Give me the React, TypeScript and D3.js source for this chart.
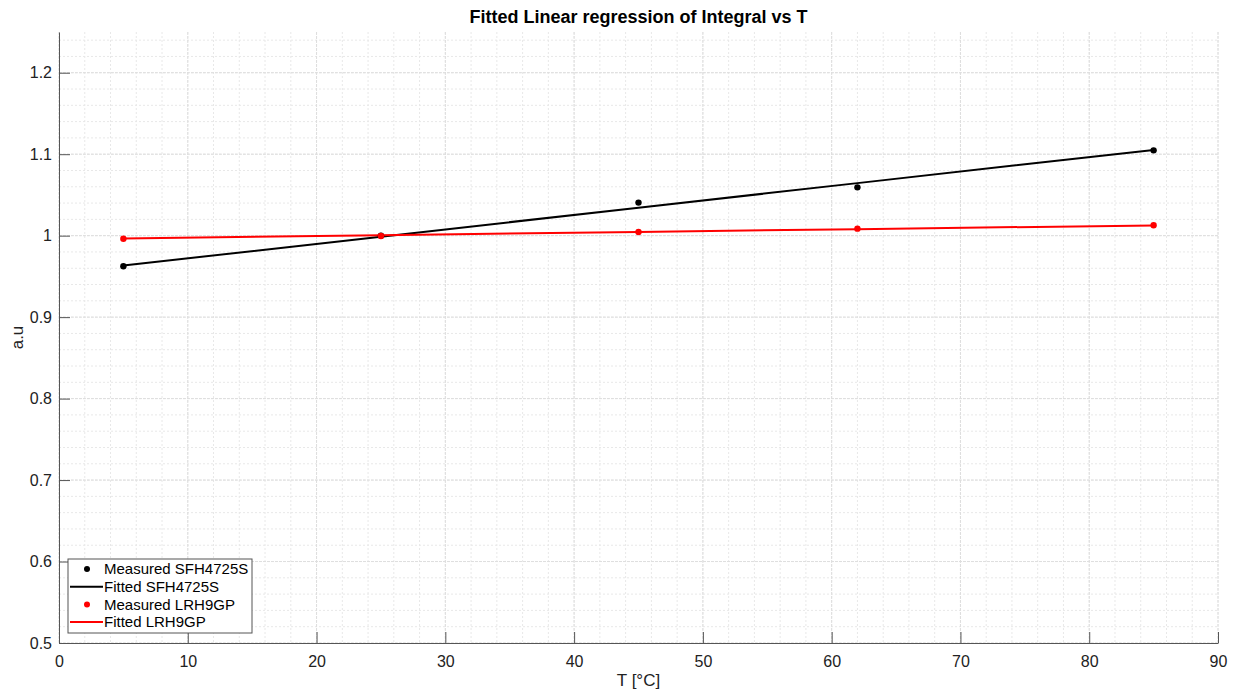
import { useEffect, useRef } from "react";
import * as d3 from "d3";

const temps = [5, 25, 45, 62, 85];
const measuredSFH = [0.9624, 1.0, 1.0406, 1.0593, 1.1047];
const fittedSFH = [0.9633, 0.9988, 1.0343, 1.0645, 1.1053];
const measuredLRH = [0.9962, 0.9995, 1.0045, 1.0086, 1.0128];
const fittedLRH = [0.9966, 1.0006, 1.0046, 1.008, 1.0126];

const xTicks = [0, 10, 20, 30, 40, 50, 60, 70, 80, 90];
const yTicks = [0.5, 0.6, 0.7, 0.8, 0.9, 1, 1.1, 1.2];

const legendItems = [
  { label: "Measured SFH4725S", color: "#000000", kind: "dot" },
  { label: "Fitted SFH4725S", color: "#000000", kind: "line" },
  { label: "Measured LRH9GP", color: "#ff0000", kind: "dot" },
  { label: "Fitted LRH9GP", color: "#ff0000", kind: "line" },
];

export default function App() {
  const svgRef = useRef<SVGSVGElement>(null);

  useEffect(() => {
    if (!svgRef.current) return;
    const width = 1234;
    const height = 693;
    const margin = { top: 32, right: 16, bottom: 50, left: 59 };
    const innerWidth = width - margin.left - margin.right;
    const innerHeight = height - margin.top - margin.bottom;
    const font = "'Liberation Sans', Arial, sans-serif";

    d3.select(svgRef.current).selectAll("*").remove();
    const svg = d3
      .select(svgRef.current)
      .attr("width", width)
      .attr("height", height)
      .style("font-family", font);

    svg.append("rect").attr("width", width).attr("height", height).attr("fill", "#fff");

    const g = svg.append("g").attr("transform", `translate(${margin.left},${margin.top})`);

    const x = d3.scaleLinear().domain([0, 90]).range([0, innerWidth]);
    const y = d3.scaleLinear().domain([0.5, 1.25]).range([innerHeight, 0]);

    // Minor grid
    const minorX = d3.range(0, 91, 2);
    const minorY = d3.range(0.5, 1.2501, 0.02);
    g.append("g")
      .selectAll("line")
      .data(minorX)
      .join("line")
      .attr("x1", (d) => x(d))
      .attr("x2", (d) => x(d))
      .attr("y1", 0)
      .attr("y2", innerHeight)
      .attr("stroke", "#e8e8e8")
      .attr("stroke-dasharray", "2,2");
    g.append("g")
      .selectAll("line")
      .data(minorY)
      .join("line")
      .attr("x1", 0)
      .attr("x2", innerWidth)
      .attr("y1", (d) => y(d))
      .attr("y2", (d) => y(d))
      .attr("stroke", "#e8e8e8")
      .attr("stroke-dasharray", "2,2");

    // Major grid
    g.append("g")
      .selectAll("line")
      .data(xTicks)
      .join("line")
      .attr("x1", (d) => x(d))
      .attr("x2", (d) => x(d))
      .attr("y1", 0)
      .attr("y2", innerHeight)
      .attr("stroke", "#dedede")
      .attr("stroke-dasharray", "3,1");
    g.append("g")
      .selectAll("line")
      .data(yTicks)
      .join("line")
      .attr("x1", 0)
      .attr("x2", innerWidth)
      .attr("y1", (d) => y(d))
      .attr("y2", (d) => y(d))
      .attr("stroke", "#dedede")
      .attr("stroke-dasharray", "3,1");

    // Axes
    const xAxis = d3
      .axisBottom(x)
      .tickValues(xTicks)
      .tickSizeInner(-11)
      .tickSizeOuter(0)
      .tickPadding(12)
      .tickFormat((d) => `${d}`);
    const yAxis = d3
      .axisLeft(y)
      .tickValues(yTicks)
      .tickSizeInner(-11)
      .tickSizeOuter(0)
      .tickPadding(7)
      .tickFormat((d) => `${d}`);

    const gx = g.append("g").attr("transform", `translate(0,${innerHeight})`).call(xAxis);
    const gy = g.append("g").call(yAxis);
    [gx, gy].forEach((ax) => {
      ax.select(".domain").attr("stroke", "#555").attr("stroke-width", 1);
      ax.selectAll(".tick line").attr("stroke", "#555");
      ax.selectAll(".tick text")
        .attr("fill", "#222")
        .style("font-size", "16px")
        .style("font-family", font);
    });
    gx.selectAll(".tick text").attr("y", 24).attr("dy", 0);
    gy.selectAll(".tick text").attr("x", -7);

    // Lines
    const line = d3
      .line<number>()
      .x((_, i) => x(temps[i]))
      .y((d) => y(d));

    g.append("path")
      .datum(fittedSFH)
      .attr("d", line)
      .attr("fill", "none")
      .attr("stroke", "#000")
      .attr("stroke-width", 2);
    g.append("path")
      .datum(fittedLRH)
      .attr("d", line)
      .attr("fill", "none")
      .attr("stroke", "#ff0000")
      .attr("stroke-width", 2);

    g.append("g")
      .selectAll("circle")
      .data(measuredSFH)
      .join("circle")
      .attr("cx", (_, i) => x(temps[i]))
      .attr("cy", (d) => y(d))
      .attr("r", 3.2)
      .attr("fill", "#000");
    g.append("g")
      .selectAll("circle")
      .data(measuredLRH)
      .join("circle")
      .attr("cx", (_, i) => x(temps[i]))
      .attr("cy", (d) => y(d))
      .attr("r", 3.2)
      .attr("fill", "#ff0000");

    // Title and labels
    svg
      .append("text")
      .attr("x", margin.left + innerWidth / 2)
      .attr("y", 23)
      .attr("text-anchor", "middle")
      .attr("font-weight", "bold")
      .attr("font-size", 18)
      .attr("fill", "#000")
      .text("Fitted Linear regression of Integral vs T");

    svg
      .append("text")
      .attr("x", margin.left + innerWidth / 2)
      .attr("y", 686)
      .attr("text-anchor", "middle")
      .attr("font-size", 17)
      .attr("fill", "#222")
      .text("T [°C]");

    svg
      .append("text")
      .attr("transform", `translate(23,${margin.top + innerHeight / 2}) rotate(-90)`)
      .attr("text-anchor", "middle")
      .attr("font-size", 17)
      .attr("fill", "#222")
      .text("a.u");

    // Legend
    const lg = svg.append("g").attr("transform", "translate(68,559)");
    lg.append("rect")
      .attr("width", 184)
      .attr("height", 74)
      .attr("fill", "#fff")
      .attr("stroke", "#555")
      .attr("stroke-width", 1);
    legendItems.forEach((item, i) => {
      const cy = 10 + i * 17.7;
      if (item.kind === "dot") {
        lg.append("circle").attr("cx", 19).attr("cy", cy).attr("r", 3).attr("fill", item.color);
      } else {
        lg.append("line")
          .attr("x1", 2)
          .attr("x2", 35)
          .attr("y1", cy)
          .attr("y2", cy)
          .attr("stroke", item.color)
          .attr("stroke-width", 2);
      }
      lg.append("text")
        .attr("x", 36)
        .attr("y", cy)
        .attr("dy", "0.35em")
        .attr("font-size", 15)
        .attr("fill", "#000")
        .text(item.label);
    });
  }, []);

  return (
    <div style={{ position: "fixed", top: 0, left: 0 }}>
      <svg ref={svgRef} style={{ display: "block" }} />
    </div>
  );
}
